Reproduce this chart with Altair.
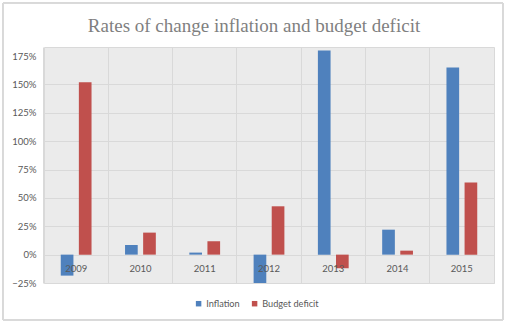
import altair as alt
import pandas as pd

years = ["2009", "2010", "2011", "2012", "2013", "2014", "2015"]
inflation = [-0.185, 0.085, 0.018, -0.25, 1.80, 0.22, 1.65]
budget_deficit = [1.52, 0.194, 0.118, 0.426, -0.12, 0.035, 0.635]
series_names = ["Inflation", "Budget deficit"]
series_colors = ["#4f81bd", "#c0504d"]
y_ticks = [-0.25, 0, 0.25, 0.5, 0.75, 1.0, 1.25, 1.5, 1.75]

rows = []
for i, yr in enumerate(years):
    rows.append({"year": yr, "series": series_names[0], "value": inflation[i]})
    rows.append({"year": yr, "series": series_names[1], "value": budget_deficit[i]})
df = pd.DataFrame(rows)
labels_df = pd.DataFrame({"year": years})

yscale = alt.Scale(domain=[-0.25, 1.83], nice=False, zero=False)
xscale = alt.Scale(domain=years, paddingInner=0, paddingOuter=0)

xaxis = alt.Axis(title=None, labels=False, ticks=False, domain=False,
                 grid=True, gridColor="#d9d9d9", bandPosition=0)
yaxis = alt.Axis(title=None, values=y_ticks, format=".0%", domain=False,
                 ticks=False, labelPadding=8, labelColor="#595959",
                 labelFont="Lato", labelFontSize=9.5, labelOverlap=False,
                 gridColor="#d9d9d9",
                 gridOpacity={"condition": {"test": "datum.value > 1.7", "value": 0}, "value": 1})

bars = alt.Chart(df).mark_bar(clip=True).encode(
    x=alt.X("year:N", scale=xscale, sort=years, axis=xaxis),
    xOffset=alt.XOffset("series:N", sort=series_names,
                        scale=alt.Scale(paddingInner=0.3, paddingOuter=0.925)),
    y=alt.Y("value:Q", scale=yscale, axis=yaxis),
    color=alt.Color("series:N", sort=series_names,
                    scale=alt.Scale(domain=series_names, range=series_colors),
                    legend=alt.Legend(title=None, orient="none", direction="horizontal",
                                      legendX=150, legendY=252, symbolType="square",
                                      symbolSize=30, symbolStrokeWidth=0,
                                      labelFont="Lato", labelFontSize=9.2,
                                      labelColor="#595959", columnPadding=10,
                                      labelOffset=3)),
)

texts = alt.Chart(labels_df).mark_text(
    dy=14, font="Lato", fontSize=9.5, color="#595959"
).encode(
    x=alt.X("year:N", scale=xscale, sort=years, axis=xaxis),
    y=alt.Y(datum=0, scale=yscale, axis=yaxis),
    text="year:N",
)

frame = alt.Chart(labels_df).mark_rect(
    fill=None, stroke="#d9d9d9", strokeWidth=1
).encode(
    x=alt.value(-41), x2=alt.value(459), y=alt.value(-44), y2=alt.value(273)
)

chart = alt.layer(bars, texts, frame).properties(
    width=450, height=236,
    autosize=alt.AutoSizeParams(type="none"),
    padding={"left": 44, "top": 47, "right": 14, "bottom": 43},
    background="white",
    title=alt.TitleParams("Rates of change inflation and budget deficit",
                          font="Liberation Serif", fontSize=19, fontWeight="normal",
                          color="#7f7f7f", anchor="middle", frame="group",
                          offset=-33, dx=-15),
).configure_view(
    fill="#ebebeb", stroke="#d9d9d9"
)

chart.save("out.html", embed_options={"renderer": "svg", "actions": False})
